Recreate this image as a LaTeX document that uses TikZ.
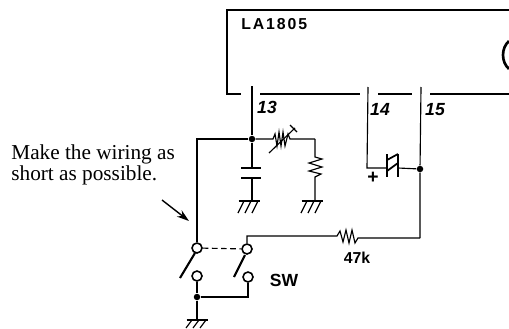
\documentclass[tikz,border=0pt]{standalone}
\usepackage{fontspec}
\setmainfont{Liberation Serif}
\setsansfont{Liberation Sans}
\newfontfamily\chipfont[LetterSpace=12]{Liberation Sans}
\usepackage{tikz}
\usetikzlibrary{arrows.meta}
\tikzset{
  wire/.style={line width=0.65pt},
  bus/.style={line width=1.3pt},
  junc/.style={circle,fill=black,inner sep=0pt,minimum size=0.13cm},
  term/.style={circle,draw,fill=white,line width=0.9pt,inner sep=0pt,minimum size=0.2cm},
  pinlab/.style={font=\sffamily\bfseries\itshape\fontsize{10}{10}\selectfont},
  partlab/.style={font=\sffamily\bfseries\fontsize{9}{10}\selectfont},
  pics/gnd/.style={code={
    \draw[line width=1.2pt](-10.5,0)--(10.5,0);
    \foreach \x in {-5,2,9}\draw[wire](\x,0)--(\x-6,#1);
  }}
}
\begin{document}
\begin{tikzpicture}[x=0.02cm,y=-0.02cm]
\useasboundingbox (0,0) rectangle (509,328);
% IC outline
\coordinate (icA) at (509,10);
\coordinate (icB) at (227,10);
\coordinate (icC) at (227,94);
\coordinate (icD) at (241,94);
\draw[bus](icA)--(icB)--(icC)--(icD);
\draw[bus](260,94)--(360,94);
\draw[bus](378,94)--(412,94);
\draw[bus](430,94)--(509,94);
\draw[line width=1.5pt](509,41) .. controls (501,48) and (501,62) .. (509,69);
\node[font=\chipfont\bfseries\fontsize{9}{10}\selectfont,anchor=base west,inner sep=0pt] (chip) at (241,30) {LA1805};
% pins
\coordinate (pinA) at (252,86);
\coordinate (pinB) at (368,87);
\coordinate (pinC) at (421,87);
\node[pinlab] (labA) at (267,107) {13};
\node[pinlab] (labB) at (380,109) {14};
\node[pinlab] (labC) at (435,110) {15};
% junctions
\node[junc] (jtop) at (252,139) {};
\node[junc] (jcap) at (420,169) {};
\node[junc] (jsw) at (197,297) {};
% switch
\node[term] (swA) at (197,248) {};
\node[term] (swB) at (197,276) {};
\node[term] (swC) at (247,249) {};
\node[term] (swD) at (248,277) {};
\draw[wire](pinA)--(jtop);
\draw[wire](jtop)-|(swA);
\draw[wire](swB)--(jsw);
\draw[wire](jsw)-|(swD);
\draw[line width=1.2pt](195,253)--(180,278);
\draw[line width=1.2pt](245,255)--(234,277);
\draw[wire,dash pattern=on 3.2pt off 2pt](swA)--(swC);
\coordinate (gndS) at (197,320);
\draw[wire](jsw)--(gndS);
\pic at (gndS) {gnd=8};
\node[partlab,font=\sffamily\bfseries\fontsize{10}{10}\selectfont] (labS) at (284,280) {SW};
% capacitor
\coordinate (capT) at (252,168);
\coordinate (capB) at (252,178);
\coordinate (gndC) at (249,201);
\draw[wire](jtop)--(capT);
\draw[line width=1.5pt](241,168)--(261,168);
\draw[line width=1.5pt](241,178)--(261,178);
\draw[wire](capB)--(252,201);
\pic at (gndC) {gnd=12};
% variable resistor
\coordinate (varR) at (315,139);
\draw[wire](jtop)--(273,139)--(275,134)--(277,146)--(279,132)--(281,146)--(283,132)--(285,146)--(288,134)--(290,139)--(varR);
\draw[wire](269,153)--(295,128);
\draw[wire](290,125)--(297,132);
% vertical resistor
\coordinate (gndR) at (312,201);
\draw[wire](varR)--(315,157)--(322,159)--(309,163)--(322,167)--(309,171)--(321,174)--(315,177)--(315,201);
\pic at (gndR) {gnd=12};
% electrolytic
\coordinate (elA) at (387,168);
\coordinate (elB) at (398,168);
\draw[wire](pinB)--(367,168)--(elA);
\draw[line width=1.3pt](387,154)--(387,177);
\draw[line width=1.3pt](398,154)--(398,177);
\draw[line width=1pt](387,160)--(398,154);
\draw[line width=1pt](387,171)--(398,163);
\draw[wire](elB)--(jcap);
\node[font=\sffamily\bfseries\fontsize{11}{11}\selectfont,inner sep=0pt] (plus) at (373,178) {+};
% feedback resistor
\coordinate (fbR) at (420,238);
\draw[wire](pinC)--(jcap)--(fbR);
\draw[wire](swC)--(247,236)--(337,236)--(340,231)--(343,242)--(346,230)--(349,243)--(352,230)--(355,243)--(358,238)--(fbR);
\node[partlab] (labR) at (357,258) {47k};
% note
\node[align=left,anchor=base west,inner sep=0pt,font=\fontsize{12.1}{11.9}\selectfont] (note) at (11,180) {Make the wiring as\\short as possible.};
\draw[line width=0.8pt,-{Stealth[length=7pt,width=4.5pt]}](162,200)--(189,221);
\end{tikzpicture}
\end{document}
